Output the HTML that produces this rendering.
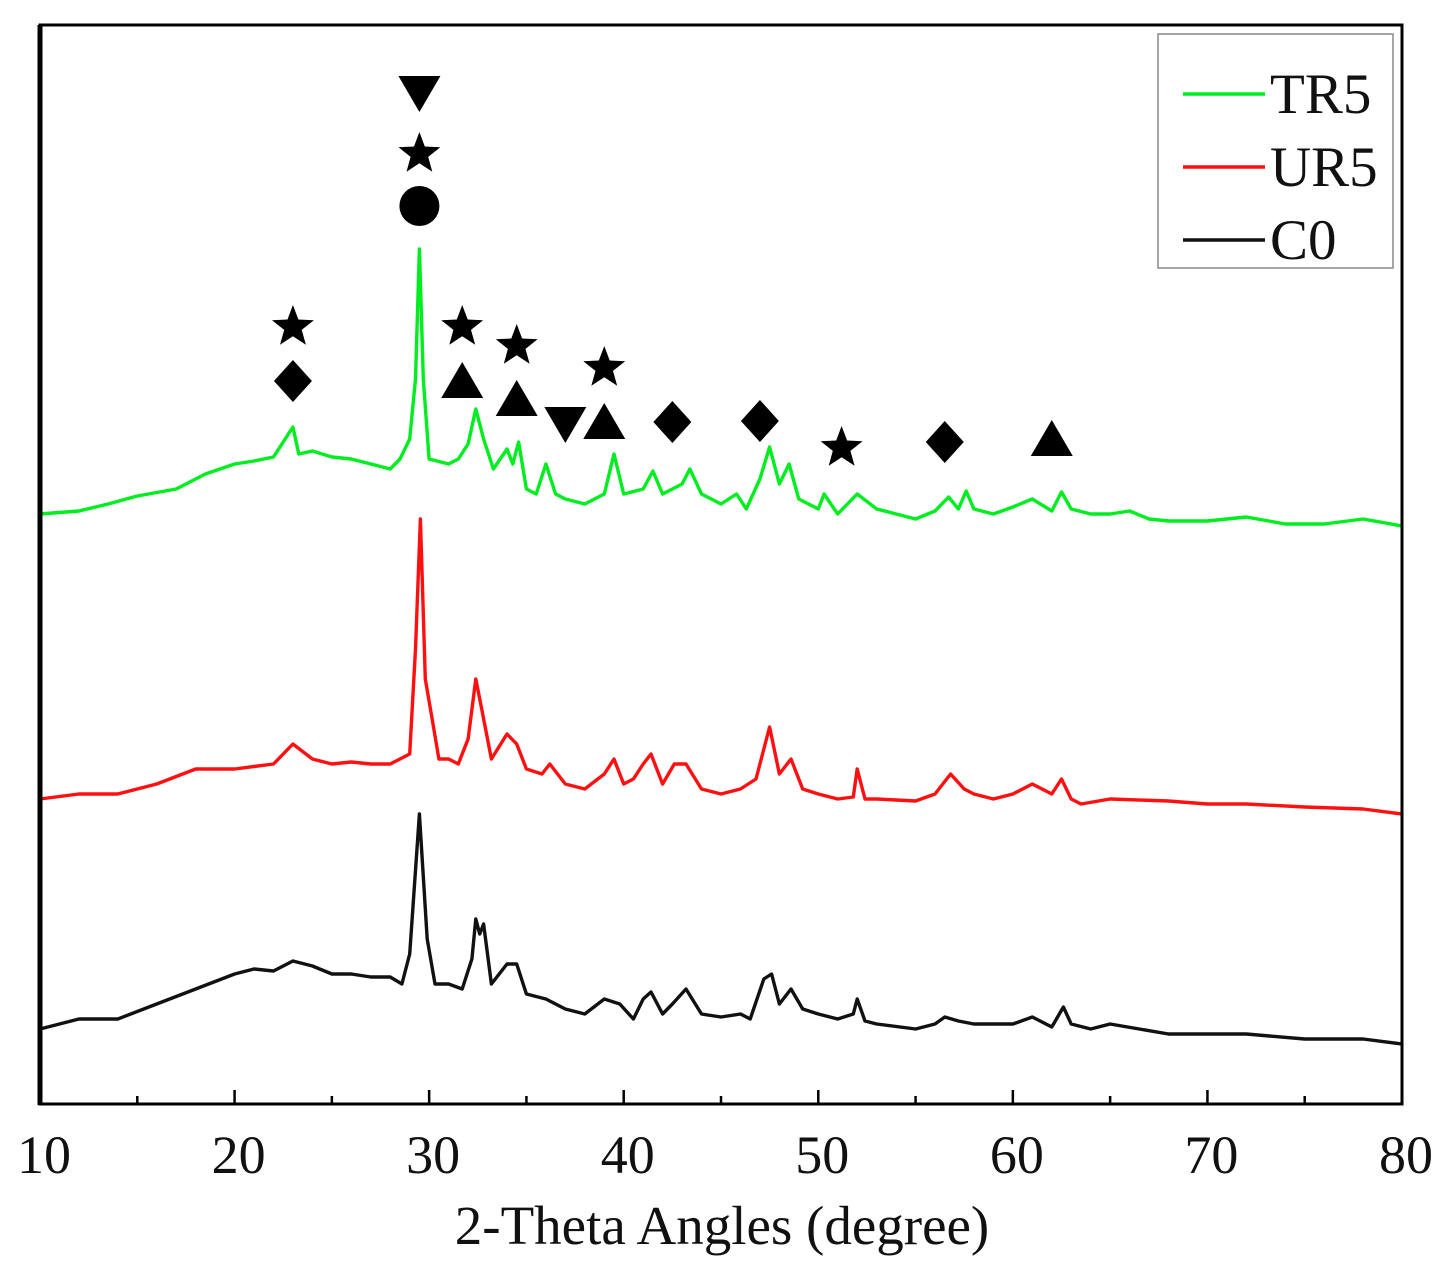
<!DOCTYPE html>
<html><head><meta charset="utf-8"><style>
html,body{margin:0;padding:0;background:#fff;}
svg{display:block;font-family:"Liberation Serif",serif;}
</style></head><body>
<svg id="chart" width="1450" height="1271" viewBox="0 0 1450 1271" xmlns="http://www.w3.org/2000/svg">
<rect x="0" y="0" width="1450" height="1271" fill="#fff"/>
<g id="plot"></g>
</svg>
<script>
const angles_tr5=[10,12,13.5,15,17,18.5,20,21,22,23,23.3,24,25,26,27,28,28.5,29,29.3,29.5,29.7,30,31,31.5,32,32.4,32.8,33.3,34,34.3,34.6,35,35.5,36,36.5,37,38,39,39.5,40,41,41.5,42,43,43.4,44,45,45.8,46.3,47,47.5,48,48.5,49,50,50.3,51,52,53,54,55,56,56.7,57.2,57.6,58,59,60,61,62,62.5,63,64,65,66,67,68,70,72,74,76,78,80];
const tr5=[590,593,600,608,615,630,640,643,647,677,650,653,647,645,640,635,645,665,725,855,725,645,640,645,660,695,665,635,655,640,662,615,610,640,610,605,600,610,650,610,615,633,610,620,635,610,600,610,595,625,657,620,640,605,595,610,590,610,595,590,585,593,607,595,613,595,590,597,605,593,612,595,590,590,593,585,583,583,587,580,580,585,578];
const angles_ur5=[10,12,14,16,18,20,22,23,24,25,26,27,28,29,29.3,29.55,29.8,30.2,30.5,31,31.5,32,32.4,32.7,33.2,34,34.5,35,35.8,36.2,37,38,39,39.5,40,40.5,41,41.4,42,42.6,43.2,44,45,46,46.8,47.5,48,48.6,49.2,50,51,51.8,52,52.4,53,55,56,56.8,57.5,58,59,60,61,62,62.5,63,63.5,65,68,70,72,75,78,80];
const ur5=[305,310,310,320,335,335,340,360,345,340,342,340,340,350,455,585,425,380,345,345,340,365,425,395,345,370,360,335,330,340,320,315,330,345,320,325,340,350,320,340,340,315,310,315,325,377,330,345,315,310,305,307,335,305,305,303,310,330,315,310,305,310,320,310,325,305,300,305,303,300,300,297,295,290];
const angles_c0=[10,12,14,16,18,20,21,22,23,24,25,26,27,28,28.6,29,29.5,29.9,30.3,31,31.7,32.2,32.4,32.6,32.8,33.2,34,34.5,35,36,37,38,39,39.8,40.5,41,41.4,42,42.5,43.2,44,45,46,46.5,47.2,47.6,48,48.6,49.2,50,51,51.8,52,52.4,53,55,56,56.5,57.2,58,60,61,62,62.6,63,64,65,68,70,72,75,78,80];
const c0=[75,85,85,100,115,130,135,133,143,138,130,130,127,127,120,150,290,165,120,120,115,145,185,170,180,120,140,140,110,105,95,90,105,100,85,105,112,90,100,115,90,87,90,85,125,130,100,115,95,90,85,90,105,83,80,75,80,87,83,80,80,87,77,97,80,75,80,70,70,70,65,65,60];
const xTicks=[10,20,30,40,50,60,70,80];
const minorTicks=[15,25,35,45,55,65,75];
const legendLabels=["TR5","UR5","C0"];
const markerAngles=[29.5,29.5,29.5,23,23,31.7,31.7,34.5,34.5,37,39,39,42.5,47,51.2,56.5,62];
const markerTypes=["tri-down","star","circle","star","diamond","star","tri-up","star","tri-up","tri-down","star","tri-up","diamond","diamond","star","diamond","tri-up"];
const markerHeights=[1011,952,898,779,723,779,723,760,705,680,738,682,682,683,658,662,665];

const X0=40,X1=1402,Y0=25,Y1=1104;
function xs(a){return X0+(a-10)/(80-10)*(X1-X0);}
function ys(v){return Y1-v;}
const NS="http://www.w3.org/2000/svg";
const g=document.getElementById('plot');
function el(t,attrs){const e=document.createElementNS(NS,t);for(const k in attrs)e.setAttribute(k,attrs[k]);g.appendChild(e);return e;}

function series(ang,vals,color,name){
  let d="";
  for(let i=0;i<ang.length;i++){d+=(i?"L":"M")+xs(ang[i]).toFixed(1)+","+ys(vals[i]).toFixed(1);}
  const p=el('path',{d:d,fill:'none',stroke:color,'stroke-width':3.4,'stroke-linejoin':'round'});
  
  
}
series(angles_c0,c0,'#111','series-c0');
series(angles_ur5,ur5,'#ff1010','series-ur5');
series(angles_tr5,tr5,'#00ee20','series-tr5');

let f=el('rect',{x:X0,y:Y0,width:X1-X0,height:Y1-Y0,fill:'none',stroke:'#000','stroke-width':3});


let la=el('line',{x1:X0,y1:Y0,x2:X0,y2:Y1+1,stroke:'#000','stroke-width':5});



xTicks.forEach(t=>{
  const x=xs(t);
  const tk=el('line',{x1:x,y1:Y1,x2:x,y2:Y1-14,stroke:'#000','stroke-width':2.5});
  
  
  const tx=el('text',{x:x+4,y:1173,'text-anchor':'middle','font-size':54,fill:'#111'});
  tx.textContent=t;
  
  
});
minorTicks.forEach(t=>{
  const x=xs(t);
  const tk=el('line',{x1:x,y1:Y1,x2:x,y2:Y1-8,stroke:'#000','stroke-width':2.5});
  
  
});
const at=el('text',{x:722,y:1244,'text-anchor':'middle','font-size':55,fill:'#111'});
at.textContent="2-Theta Angles (degree)";



function starPts(cx,cy,R){const r=R*0.42;let p=[];for(let i=0;i<10;i++){const a=-Math.PI/2+i*Math.PI/5;const rr=i%2?r:R;p.push((cx+rr*Math.cos(a)).toFixed(1)+","+(cy+rr*Math.sin(a)).toFixed(1));}return p.join(" ");}
markerAngles.forEach((a,i)=>{
  const cx=xs(a),cy=ys(markerHeights[i]),t=markerTypes[i];let m;
  if(t==='circle')m=el('circle',{cx:cx,cy:cy,r:20,fill:'#000'});
  else if(t==='star')m=el('polygon',{points:starPts(cx,cy+2,22),fill:'#000'});
  else if(t==='tri-up')m=el('polygon',{points:`${cx-21},${cy+17} ${cx+21},${cy+17} ${cx},${cy-19}`,fill:'#000'});
  else if(t==='tri-down')m=el('polygon',{points:`${cx-21},${cy-17} ${cx+21},${cy-17} ${cx},${cy+19}`,fill:'#000'});
  else m=el('polygon',{points:`${cx},${cy-21} ${cx+19},${cy} ${cx},${cy+21} ${cx-19},${cy}`,fill:'#000'});
  
  
});

const lb=el('rect',{x:1158,y:34,width:235,height:234,fill:'#fff',stroke:'#888','stroke-width':1.5});


const lcol=['#00ee20','#ff1010','#111'];
legendLabels.forEach((lab,i)=>{
  const y=94+i*73;
  const ln=el('line',{x1:1183,y1:y,x2:1265,y2:y,stroke:lcol[i],'stroke-width':3.5});
  
  
  const tx=el('text',{x:1270,y:y+19,'font-size':57,fill:'#111'});
  tx.textContent=lab;
  
  
});
</script>
</body></html>
